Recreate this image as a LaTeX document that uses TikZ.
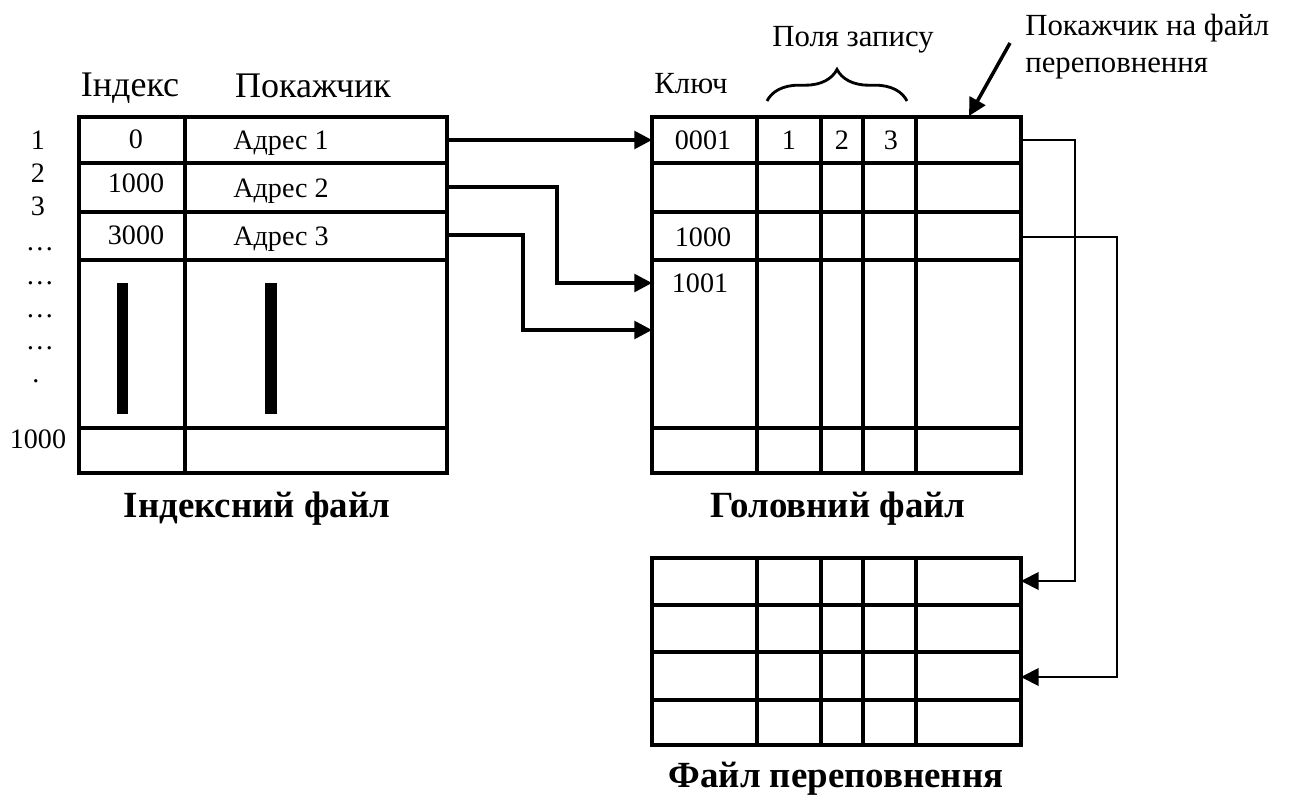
\documentclass[tikz,border=0pt]{standalone}
\usepackage{fontspec}
\setmainfont{Liberation Serif}
\usetikzlibrary{arrows.meta, decorations.pathreplacing}

\begin{document}
\begin{tikzpicture}[
  x=0.02cm, y=-0.02cm,
  >={Triangle[length=10pt, width=10pt]},
  grid/.style={line width=2.2pt},
  sep/.style={line width=1.8pt},
  link/.style={->, line width=2pt},
  overlink/.style={->, line width=1.1pt},
  cell/.style={inner sep=0pt, anchor=base, font=\fontsize{16}{19}\selectfont},
  head/.style={inner sep=0pt, anchor=base, font=\fontsize{20.5}{24}\selectfont},
  note/.style={inner sep=0pt, anchor=base, font=\fontsize{17.5}{21}\selectfont},
  caption/.style={inner sep=0pt, anchor=base, font=\fontsize{21}{25}\selectfont\bfseries},
  rownum/.style={inner sep=0pt, anchor=base, font=\fontsize{16}{19}\selectfont}
]

  \useasboundingbox (0,0) rectangle (1302,801);

  % Індексний файл
  \draw[grid] (79,117) rectangle (447,473);
  \foreach \y in {163,212,260,428} \draw[grid] (79,\y) -- (447,\y);
  \draw[grid] (185,117) -- (185,473);
  \fill (117,283) rectangle (128,414);
  \fill (265,283) rectangle (277,414);

  \node[head] (hidx) at (130,96) {Індекс};
  \node[head] (hptr) at (313,97) {Покажчик};

  \node[cell] (idx1) at (136,148) {0};
  \node[cell] (idx2) at (136,192) {1000};
  \node[cell] (idx3) at (136,244) {3000};
  \node[cell, anchor=base west] (adr1) at (233,149) {Адрес 1};
  \node[cell, anchor=base west] (adr2) at (233,197) {Адрес 2};
  \node[cell, anchor=base west] (adr3) at (233,245) {Адрес 3};

  % номери рядків
  \node[rownum] (num1) at (38,149) {1};
  \node[rownum] (num2) at (38,182) {2};
  \node[rownum] (num3) at (38,215) {3};
  \foreach \y [count=\i] in {250,284,317,349} \node[rownum] (dots\i) at (40,\y) {…};
  \node[rownum] (dot5) at (36,382) {.};
  \node[rownum] (numlast) at (38,448) {1000};

  \node[caption] (capidx) at (257,517) {Індексний файл};

  % Головний файл
  \draw[grid] (652,117) rectangle (1021,473);
  \foreach \y in {163,212,260,428} \draw[grid] (652,\y) -- (1021,\y);
  \foreach \x in {757,821,863,916} \draw[sep] (\x,117) -- (\x,473);

  \node[note] (key) at (691,93) {Ключ};
  \node[note] (fields) at (853,47) {Поля запису};
  \draw[line width=1.6pt, decorate, decoration={brace, amplitude=18pt}] (767,101) -- (907,101);
  \node[note, anchor=base west] (ptrnote1) at (1025,35) {Покажчик на файл};
  \node[note, anchor=base west] (ptrnote2) at (1025,72) {переповнення};

  \node[cell] (key1) at (703,149) {0001};
  \node[cell] (fld1) at (789,149) {1};
  \node[cell] (fld2) at (842,149) {2};
  \node[cell] (fld3) at (891,149) {3};
  \node[cell] (key3) at (703,246) {1000};
  \node[cell] (key4) at (700,292) {1001};

  \node[caption] (capmain) at (838,517) {Головний файл};

  % Файл переповнення
  \draw[grid] (652,558) rectangle (1021,745);
  \foreach \y in {605,652,700} \draw[grid] (652,\y) -- (1021,\y);
  \foreach \x in {757,821,863,916} \draw[sep] (\x,558) -- (\x,745);

  \node[caption] (capover) at (836,787) {Файл переповнення};

  % точки з'єднань
  \coordinate (ia1) at (447,140);
  \coordinate (ia2) at (447,187);
  \coordinate (ia3) at (447,235);
  \coordinate (mk1) at (652,140);
  \coordinate (mk4) at (652,283);
  \coordinate (mk5) at (652,330);
  \coordinate (mp1) at (1021,140);
  \coordinate (mp3) at (1021,237);
  \coordinate (ov1) at (1021,581);
  \coordinate (ov3) at (1021,677);
  \coordinate (ptrtail) at (1010,43);
  \coordinate (ptrtip) at (969,116);

  \draw[link] (ia1) -- (mk1);
  \draw[link] (ia2) -- ++(110,0) |- (mk4);
  \draw[link] (ia3) -- ++(76,0) |- (mk5);
  \draw[overlink] (mp1) -- ++(54,0) |- (ov1);
  \draw[overlink] (mp3) -- ++(96,0) |- (ov3);
  \draw[link] (ptrtail) -- (ptrtip);

\end{tikzpicture}
\end{document}
